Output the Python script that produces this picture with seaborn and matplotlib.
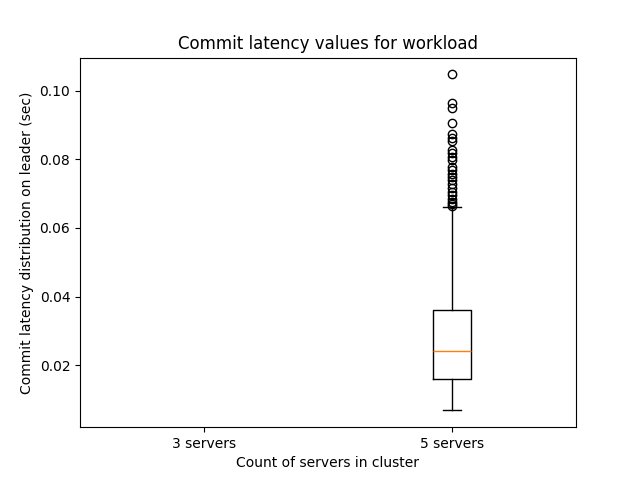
import matplotlib
matplotlib.use("Agg")
import matplotlib.pyplot as plt
import seaborn as sns

# keep matplotlib's classic look
sns.reset_orig()

labels = ["3 servers", "5 servers"]

# box summary for the 5-server run (3-server run has no samples)
whislo = 0.0069
q1 = 0.0161
med = 0.0243
q3 = 0.0362
whishi = 0.0661
fliers = [0.1047, 0.0964, 0.0948, 0.0906, 0.0873, 0.0863, 0.0853,
          0.0826, 0.0817, 0.0807, 0.0799, 0.0778, 0.0768, 0.0758,
          0.0748, 0.0739, 0.0729, 0.0715, 0.0705, 0.0695, 0.0685,
          0.0676, 0.0669, 0.0663]

stats = [{"label": labels[1], "whislo": whislo, "q1": q1, "med": med,
          "q3": q3, "whishi": whishi, "fliers": fliers}]

fig, ax = plt.subplots(figsize=(6.4, 4.8), dpi=100)
ax.bxp(stats, positions=[2], widths=0.15)
ax.set_xticks([1, 2])
ax.set_xticklabels(labels)
ax.set_xlim(0.5, 2.5)
ax.set_title("Commit latency values for workload")
ax.set_xlabel("Count of servers in cluster")
ax.set_ylabel("Commit latency distribution on leader (sec)")
fig.savefig("out.png")
